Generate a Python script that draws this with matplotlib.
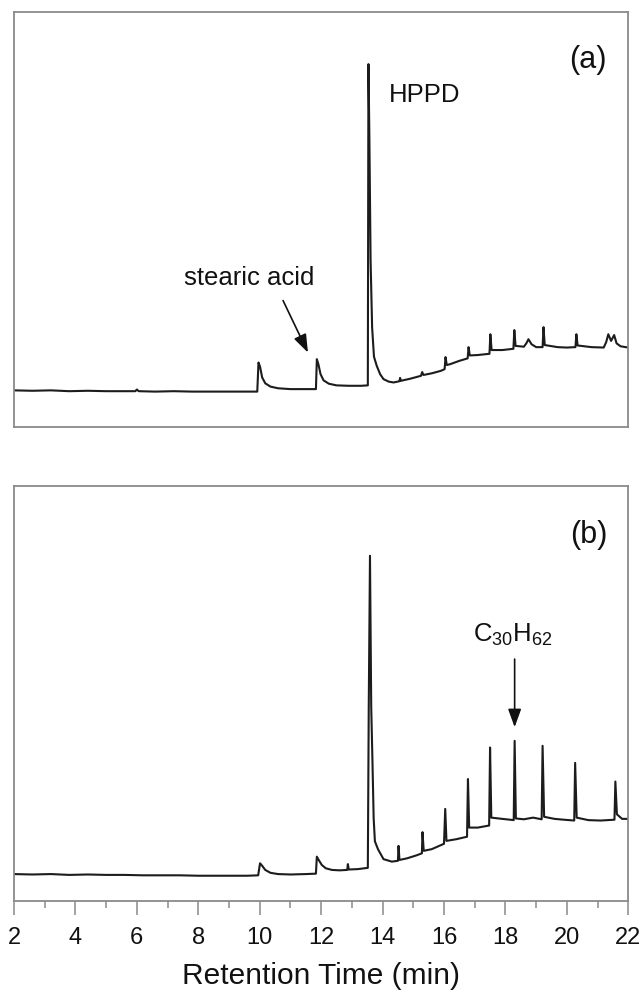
import matplotlib
matplotlib.use('Agg')
import matplotlib.pyplot as plt
from matplotlib.ticker import MultipleLocator

plt.rcParams['font.family'] = ['Liberation Sans', 'DejaVu Sans']
plt.rcParams['mathtext.fontset'] = 'custom'
plt.rcParams['mathtext.rm'] = 'Liberation Sans'
plt.rcParams['mathtext.it'] = 'Liberation Sans:italic'
plt.rcParams['mathtext.bf'] = 'Liberation Sans:bold'

# ---- data (intensity in % of panel height) ----
a_time = [2.0, 2.6, 3.2, 3.8, 4.4, 5.0, 5.6, 5.95, 6.0, 6.06, 6.6, 7.2, 7.8, 8.4, 9.0, 9.6, 9.92,
          9.96, 10.01, 10.08, 10.18, 10.35, 10.6, 11.0, 11.4, 11.83,
          11.86, 11.91, 11.98, 12.08, 12.25, 12.5, 12.9, 13.3, 13.52,
          13.54, 13.57, 13.61, 13.66, 13.72, 13.81, 13.92, 14.03, 14.2, 14.36, 14.55, 14.57, 14.6,
          14.9, 15.25, 15.29, 15.33, 15.6, 15.9, 16.02,
          16.05, 16.09, 16.2, 16.5, 16.77,
          16.8, 16.84, 17.1, 17.48,
          17.51, 17.55, 17.9, 18.26,
          18.29, 18.33, 18.6, 18.68, 18.75, 18.85, 19.0, 19.21,
          19.24, 19.28, 19.7, 20.0, 20.28,
          20.31, 20.35, 20.8, 21.2, 21.28, 21.35, 21.44, 21.54, 21.62, 21.75, 22.0]
a_signal = [8.9, 8.8, 8.9, 8.7, 8.8, 8.7, 8.7, 8.7, 9.1, 8.7, 8.6, 8.7, 8.6, 8.6, 8.6, 8.6, 8.6,
            15.6, 14.6, 12.0, 10.6, 9.8, 9.4, 9.2, 9.2, 9.2,
            16.4, 15.2, 12.8, 11.3, 10.5, 10.1, 10.0, 10.0, 10.1,
            87.4, 70.0, 40.0, 24.0, 17.0, 14.8, 12.8, 11.6, 11.0, 10.8, 11.1, 11.9, 11.2,
            11.7, 12.4, 13.3, 12.6, 13.0, 13.6, 14.0,
            16.9, 15.0, 15.2, 16.0, 16.6,
            19.3, 17.3, 17.4, 17.7,
            22.4, 18.6, 18.6, 18.9,
            23.4, 19.6, 19.4, 20.2, 21.2, 20.0, 19.3, 19.3,
            24.1, 19.8, 19.3, 19.2, 19.3,
            22.4, 19.7, 19.3, 19.2, 20.5, 22.4, 20.8, 22.2, 20.2, 19.5, 19.2]

b_time = [2.0, 2.6, 3.2, 3.8, 4.4, 5.0, 5.6, 6.2, 6.8, 7.4, 8.0, 8.6, 9.2, 9.6, 9.95,
          10.01, 10.08, 10.18, 10.35, 10.6, 11.0, 11.5, 11.83,
          11.86, 11.92, 12.02, 12.15, 12.35, 12.6, 12.85, 12.87, 12.9, 13.2, 13.52,
          13.55, 13.59, 13.63, 13.67, 13.71, 13.75, 13.85, 14.03, 14.3, 14.5,
          14.52, 14.55, 14.8, 15.1, 15.28,
          15.3, 15.34, 15.6, 16.0,
          16.04, 16.08, 16.4, 16.75,
          16.78, 16.82, 17.1, 17.47,
          17.5, 17.54, 17.9, 18.27,
          18.3, 18.34, 18.6, 18.9, 19.18,
          19.21, 19.26, 19.6, 19.9, 20.24,
          20.27, 20.32, 20.7, 21.1, 21.55,
          21.58, 21.63, 21.8, 22.0]
b_signal = [6.6, 6.5, 6.6, 6.4, 6.5, 6.4, 6.4, 6.3, 6.3, 6.3, 6.2, 6.2, 6.2, 6.2, 6.3,
            9.2, 8.6, 7.6, 6.9, 6.6, 6.5, 6.6, 6.7,
            10.8, 10.0, 8.8, 8.0, 7.6, 7.5, 7.6, 9.0, 7.7, 7.8, 8.1,
            47.0, 83.3, 47.0, 34.0, 20.0, 14.5, 12.6, 10.2, 9.6, 9.8,
            13.4, 10.0, 10.4, 11.1, 11.6,
            16.7, 12.2, 12.6, 13.9,
            22.3, 14.6, 15.0, 15.6,
            29.5, 17.8, 17.8, 18.3,
            37.1, 20.2, 19.9, 19.6,
            38.7, 20.0, 19.8, 20.2, 19.8,
            37.5, 20.4, 19.9, 19.7, 19.5,
            33.4, 20.2, 19.6, 19.5, 19.7,
            28.9, 21.0, 19.9, 19.9]

x_ticks = [2, 4, 6, 8, 10, 12, 14, 16, 18, 20, 22]
x_tick_labels = ['2', '4', '6', '8', '10', '12', '14', '16', '18', '20', '22']
x_label = 'Retention Time (min)'
panel_labels = ['(a)', '(b)']
label_hppd = 'HPPD'
label_stearic = 'stearic acid'
label_c30 = r'C$_{30}$H$_{62}$'

# ---- figure ----
fig = plt.figure(figsize=(6.43, 9.95), dpi=100)
axa = fig.add_axes([0.0218, 0.5695, 0.9553, 0.4177])
axb = fig.add_axes([0.0218, 0.0930, 0.9553, 0.4171])

line_col = '#1c1c1c'
spine_col = '#8a8a8a'
text_col = '#111111'

for ax in (axa, axb):
    ax.set_xlim(2, 22)
    ax.set_ylim(0, 100)
    ax.set_yticks([])
    for s in ax.spines.values():
        s.set_color(spine_col)
        s.set_linewidth(1.3)

axa.plot(a_time, a_signal, color=line_col, lw=1.5)
axb.plot(b_time, b_signal, color=line_col, lw=1.5)

axa.set_xticks([])
axb.set_xticks(x_ticks)
axb.set_xticklabels(x_tick_labels)
axb.xaxis.set_minor_locator(MultipleLocator(1))
axb.tick_params(axis='x', which='major', direction='out', length=10, width=1.1,
                color=spine_col, labelsize=17, pad=8, labelcolor=text_col)
axb.tick_params(axis='x', which='minor', direction='out', length=5, width=1.1,
                color=spine_col)
axb.set_xlabel(x_label, fontsize=21.5, labelpad=9, color=text_col)

# panel labels
axa.text(20.7, 88.6, panel_labels[0], fontsize=22, ha='center', va='center', color=text_col)
axb.text(20.7, 88.6, panel_labels[1], fontsize=22, ha='center', va='center', color=text_col)

# annotations panel a
axa.text(14.2, 80.3, label_hppd, fontsize=18.5, ha='left', va='center', color=text_col)
axa.text(9.66, 36.1, label_stearic, fontsize=18.5, ha='center', va='center', color=text_col)
axa.annotate('', xy=(11.57, 18.0), xytext=(10.76, 30.5),
             arrowprops=dict(arrowstyle='-|>,head_length=0.55,head_width=0.2',
                             color=text_col, lw=1.2, shrinkA=0, shrinkB=0,
                             mutation_scale=20))

# annotations panel b
axb.text(18.25, 62.8, label_c30, fontsize=18.5, ha='center', va='baseline', color=text_col)
axb.annotate('', xy=(18.3, 42.0), xytext=(18.3, 58.4),
             arrowprops=dict(arrowstyle='-|>,head_length=0.55,head_width=0.2',
                             color=text_col, lw=1.2, shrinkA=0, shrinkB=0,
                             mutation_scale=20))

fig.savefig('out.png', dpi=100)
